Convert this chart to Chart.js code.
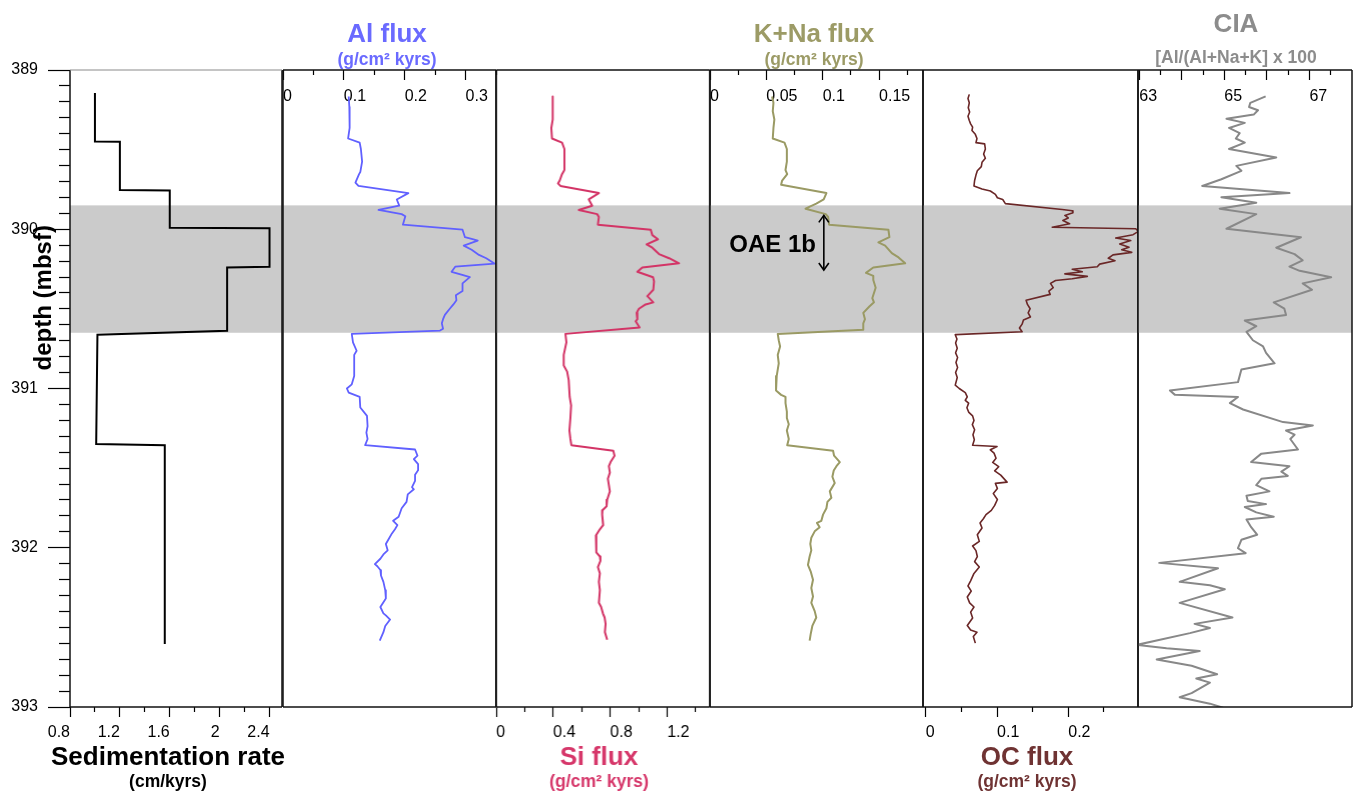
<!DOCTYPE html>
<html>
<head>
<meta charset="utf-8">
<script src="https://cdn.jsdelivr.net/npm/chart.js@4.4.1/dist/chart.umd.min.js"></script>
<style>
  html, body { margin: 0; padding: 0; background: #ffffff; }
  #wrap { position: relative; width: 1359px; height: 792px; overflow: hidden; background: #ffffff; }
  #wrap canvas { position: absolute; top: 0; }
</style>
</head>
<body>
<div id="wrap"></div>
<script>
// ---------- depth axis ----------
const depthLabels = [389, 390, 391, 392, 393];
const depthMinorStep = 0.1;
const oaeBand = [389.85, 390.65];

// ---------- sedimentation rate (cm/kyrs) ----------
const sedDepth = [389.145, 389.449, 389.451, 389.754, 389.756, 389.991, 389.993, 390.235, 390.240, 390.638, 390.662, 391.348, 391.356, 392.604];
const sedRate  = [1.00, 1.00, 1.20, 1.20, 1.60, 1.60, 2.40, 2.40, 2.06, 2.06, 1.02, 1.01, 1.56, 1.56];
const sedTicksLong = [0.8, 1.2, 1.6, 2, 2.4];
const sedTicksShort = [1.0, 1.4, 1.8, 2.2];
const sedTickLabels = [0.8, 1.2, 1.6, 2, 2.4];

// ---------- Al flux (g/cm2 kyrs) ----------
const alDepth = [389.166,389.232,389.298,389.364,389.430,389.456,389.496,389.575,389.641,389.654,389.707,389.728,389.773,389.813,389.852,389.879,389.905,389.918,389.971,390.003,390.050,390.063,390.071,390.103,390.129,390.161,390.182,390.216,390.235,390.267,390.288,390.301,390.340,390.388,390.414,390.446,390.472,390.499,390.538,390.565,390.591,390.625,390.636,390.657,390.710,390.763,390.789,390.921,390.974,391.000,391.026,391.053,391.119,391.172,391.237,391.277,391.317,391.356,391.383,391.422,391.443,391.475,391.514,391.541,391.580,391.620,391.633,391.665,391.712,391.752,391.805,391.831,391.858,391.884,391.910,391.950,391.976,392.016,392.042,392.069,392.103,392.116,392.140,392.174,392.214,392.266,392.319,392.372,392.412,392.425,392.451,392.491,392.530,392.583];
const alFlux = [0.108,0.109,0.109,0.110,0.107,0.126,0.128,0.130,0.127,0.125,0.119,0.124,0.206,0.187,0.191,0.157,0.195,0.201,0.197,0.295,0.299,0.313,0.320,0.297,0.310,0.322,0.334,0.348,0.283,0.277,0.296,0.307,0.295,0.295,0.284,0.285,0.280,0.274,0.266,0.263,0.261,0.263,0.258,0.113,0.115,0.121,0.117,0.117,0.113,0.105,0.108,0.126,0.127,0.138,0.139,0.137,0.139,0.135,0.217,0.221,0.215,0.222,0.222,0.217,0.217,0.212,0.215,0.205,0.203,0.195,0.190,0.181,0.188,0.184,0.179,0.173,0.169,0.172,0.165,0.160,0.151,0.155,0.160,0.161,0.165,0.168,0.169,0.160,0.165,0.169,0.176,0.168,0.165,0.159];
const alTicksLong = [0, 0.1, 0.2, 0.3];
const alTicksShort = [0.05, 0.15, 0.25, 0.35];
const alTickLabels = [0, 0.1, 0.2, 0.3];

// ---------- Si flux (g/cm2 kyrs) ----------
const siDepth = [389.166,389.311,389.364,389.430,389.456,389.496,389.628,389.654,389.694,389.712,389.728,389.773,389.813,389.852,389.879,389.905,389.923,389.971,390.003,390.037,390.063,390.095,390.116,390.156,390.182,390.214,390.240,390.267,390.301,390.327,390.380,390.420,390.459,390.472,390.499,390.525,390.565,390.578,390.617,390.657,390.710,390.789,390.855,390.894,390.947,391.053,391.106,391.185,391.264,391.317,391.356,391.391,391.422,391.462,391.488,391.528,391.567,391.607,391.646,391.699,391.739,391.765,391.792,391.858,391.884,391.923,391.976,392.029,392.055,392.082,392.121,392.161,392.214,392.266,392.346,392.372,392.412,392.438,392.478,392.530,392.578];
const siFlux = [0.397,0.397,0.387,0.392,0.462,0.479,0.479,0.462,0.446,0.434,0.451,0.721,0.650,0.674,0.580,0.709,0.721,0.714,1.085,1.096,1.136,1.056,1.096,1.143,1.214,1.284,1.026,0.991,1.101,1.108,1.103,1.061,1.103,1.049,1.002,0.986,0.991,0.979,1.007,0.486,0.493,0.474,0.474,0.498,0.509,0.516,0.526,0.521,0.514,0.521,0.528,0.822,0.831,0.803,0.791,0.798,0.784,0.791,0.798,0.779,0.775,0.746,0.744,0.751,0.728,0.700,0.704,0.702,0.728,0.732,0.714,0.728,0.721,0.728,0.721,0.737,0.749,0.761,0.768,0.763,0.779];
const siTicksLong = [0, 0.4, 0.8, 1.2];
const siTicksShort = [0.2, 0.6, 1.0, 1.4];
const siTickLabels = [0, 0.4, 0.8, 1.2];

// ---------- K+Na flux (g/cm2 kyrs) ----------
const knaDepth = [389.166,389.206,389.259,389.311,389.364,389.430,389.456,389.496,389.575,389.628,389.654,389.694,389.720,389.773,389.813,389.839,389.871,389.905,389.923,389.971,390.003,390.050,390.082,390.103,390.150,390.177,390.214,390.240,390.274,390.293,390.319,390.367,390.433,390.459,390.485,390.525,390.565,390.591,390.631,390.657,390.697,390.736,390.789,390.842,390.921,391.013,391.040,391.053,391.092,391.145,391.185,391.224,391.264,391.317,391.356,391.391,391.422,391.462,391.488,391.515,391.554,391.594,391.646,391.686,391.712,391.752,391.792,391.831,391.844,391.871,391.897,391.937,391.976,392.016,392.055,392.108,392.148,392.201,392.253,392.306,392.346,392.398,392.438,392.491,392.544,392.583];
const knaFlux = [0.0551,0.0563,0.0557,0.0571,0.0563,0.0557,0.0661,0.0682,0.0682,0.0670,0.0685,0.0640,0.0631,0.1033,0.1009,0.0943,0.0848,0.1027,0.1048,0.1057,0.1583,0.1592,0.1494,0.1554,0.1613,0.1673,0.1732,0.1449,0.1384,0.1449,0.1449,0.1470,0.1440,0.1455,0.1414,0.1360,0.1375,0.1360,0.1360,0.0601,0.0610,0.0622,0.0601,0.0610,0.0592,0.0586,0.0631,0.0670,0.0670,0.0682,0.0682,0.0699,0.0682,0.0699,0.0685,0.1092,0.1101,0.1152,0.1122,0.1098,0.1086,0.1107,0.1063,0.1077,0.1042,0.1033,0.1003,0.0988,0.0949,0.0973,0.0929,0.0899,0.0890,0.0899,0.0884,0.0869,0.0893,0.0914,0.0899,0.0914,0.0899,0.0929,0.0943,0.0908,0.0893,0.0884];
const knaTicksLong = [0, 0.05, 0.1, 0.15];
const knaTicksShort = [0.025, 0.075, 0.125, 0.175];
const knaTickLabels = [0, 0.05, 0.1, 0.15];
const oaeArrowDepth = [389.913, 390.256];
const oaeArrowFlux = 0.101;
const oaeLabelFlux = 0.094;
const oaeLabelDepth = 390.10;

// ---------- OC flux (g/cm2 kyrs) ----------
const ocDepth = [389.153,389.179,389.206,389.237,389.264,389.290,389.317,389.338,389.359,389.380,389.404,389.430,389.456,389.464,389.496,389.528,389.554,389.580,389.607,389.633,389.660,389.694,389.728,389.747,389.760,389.781,389.802,389.813,389.839,389.876,389.884,389.897,389.913,389.929,389.945,389.966,389.987,389.997,390.013,390.034,390.055,390.071,390.092,390.113,390.129,390.145,390.161,390.182,390.198,390.219,390.235,390.251,390.267,390.280,390.296,390.311,390.322,390.340,390.367,390.388,390.409,390.446,390.472,390.499,390.525,390.551,390.570,390.596,390.620,390.644,390.662,390.689,390.715,390.747,390.776,390.805,390.836,390.868,390.900,390.931,390.979,391.000,391.026,391.053,391.074,391.092,391.121,391.148,391.172,391.201,391.227,391.259,391.290,391.322,391.356,391.364,391.385,391.406,391.438,391.464,391.491,391.517,391.544,391.588,391.596,391.628,391.660,391.697,391.734,391.765,391.792,391.818,391.844,391.876,391.918,391.960,391.989,392.018,392.055,392.087,392.121,392.161,392.208,392.240,392.272,392.309,392.346,392.372,392.404,392.441,392.488,392.517,392.530,392.557,392.599];
const ocFlux = [0.0610,0.0592,0.0610,0.0596,0.0615,0.0592,0.0610,0.0629,0.0657,0.0648,0.0695,0.0718,0.0704,0.0826,0.0836,0.0812,0.0836,0.0789,0.0779,0.0723,0.0704,0.0685,0.0676,0.0789,0.0906,0.0977,0.1005,0.1080,0.1117,0.1915,0.2056,0.2066,0.1953,0.2000,0.1925,0.2019,0.1775,0.2948,0.2986,0.2911,0.2667,0.2878,0.2723,0.2854,0.2751,0.2892,0.2629,0.2563,0.2657,0.2441,0.2408,0.2056,0.2197,0.1953,0.2268,0.2056,0.1822,0.1751,0.1789,0.1728,0.1746,0.1408,0.1427,0.1465,0.1437,0.1469,0.1371,0.1352,0.1315,0.1352,0.0413,0.0437,0.0418,0.0441,0.0418,0.0446,0.0423,0.0446,0.0418,0.0441,0.0413,0.0469,0.0554,0.0582,0.0554,0.0601,0.0577,0.0601,0.0657,0.0676,0.0653,0.0685,0.0662,0.0681,0.0657,0.1000,0.0906,0.0958,0.0986,0.0939,0.1023,0.0967,0.1052,0.1141,0.0977,0.1005,0.0948,0.1005,0.0967,0.0920,0.0845,0.0808,0.0761,0.0789,0.0723,0.0751,0.0657,0.0704,0.0723,0.0685,0.0751,0.0676,0.0629,0.0592,0.0638,0.0582,0.0615,0.0676,0.0629,0.0657,0.0582,0.0629,0.0718,0.0667,0.0695];
const ocTicksLong = [0, 0.1, 0.2];
const ocTicksShort = [0.05, 0.15, 0.25];
const ocTickLabels = [0, 0.1, 0.2];

// ---------- CIA ----------
const ciaDepth = [389.166,389.206,389.232,389.253,389.280,389.306,389.332,389.364,389.396,389.430,389.456,389.496,389.549,389.602,389.633,389.686,389.728,389.773,389.799,389.834,389.871,389.905,389.997,390.050,390.116,390.156,390.195,390.235,390.261,390.301,390.340,390.380,390.459,390.499,390.538,390.573,390.609,390.644,390.697,390.736,390.776,390.842,390.881,390.960,391.013,391.040,391.053,391.092,391.132,391.211,391.232,391.264,391.290,391.317,391.383,391.409,391.462,391.488,391.522,391.549,391.567,391.607,391.646,391.673,391.707,391.726,391.744,391.778,391.805,391.823,391.871,391.918,391.950,392.003,392.034,392.095,392.129,392.214,392.235,392.261,392.346,392.438,392.478,392.504,392.536,392.610,392.631,392.649,392.702,392.741,392.794,392.821,392.847,392.913,392.939,392.979,393.005];
const ciaValue = [65.97,65.61,65.58,65.79,65.69,65.05,65.48,65.11,65.36,65.27,65.48,65.11,66.22,65.28,65.40,64.93,64.48,66.53,64.93,65.75,64.89,65.75,65.05,66.80,66.22,66.65,66.84,66.53,66.77,67.51,66.84,67.06,66.16,66.41,66.45,65.48,65.75,65.52,65.67,65.91,65.98,66.18,65.40,65.32,63.72,63.84,65.32,65.13,65.44,66.38,67.08,66.45,66.65,66.55,66.73,65.87,65.63,66.53,66.34,66.49,65.87,65.75,66.06,65.52,65.55,65.98,65.48,65.75,66.16,65.52,65.63,65.77,65.40,65.32,65.50,63.47,64.85,63.95,64.66,65.01,63.95,65.19,64.30,64.66,64.19,62.94,63.64,64.42,63.41,64.23,64.83,64.34,64.66,64.23,63.95,64.66,64.97];
const ciaTicksLong = [63, 64, 65, 66, 67];
const ciaTicksShort = [63.5, 64.5, 65.5, 66.5, 67.5];
const ciaTickLabels = [63, 65, 67];

// ---------- drawing helpers ----------
const FONT = "'Liberation Sans', Arial, Helvetica, sans-serif";
const PLOT_TOP = 70, PLOT_BOTTOM = 707, PAGE_H = 792;
const BOTTOM_AXIS_H = 40;

function isIn(v, list) {
  return v !== undefined && v !== null && list.some(m => Math.abs(m - v) < 1e-9);
}
function labelFor(v, list) {
  const m = list.find(l => Math.abs(l - v) < 1e-9);
  return m === undefined ? '' : String(m);
}
function toPoints(depths, values) {
  return depths.map((d, i) => ({ x: values[i], y: d }));
}
function depthTickValues() {
  const out = depthLabels.slice();
  for (let i = 0; i < depthLabels.length - 1; i++) {
    for (let k = 1; k < 10; k++) out.push(Math.round((depthLabels[i] + k * depthMinorStep) * 1000) / 1000);
  }
  return out.sort((a, b) => a - b);
}

// x axis with long / short ticks; 'top' axes carry their ticks and labels inside the frame
function xAxis(ax) {
  const values = ax.long.concat(ax.short).sort((a, b) => a - b);
  const top = ax.side === 'top';
  const L = 10, S = 5;
  return {
    type: 'linear', position: ax.side, min: ax.min, max: ax.max,
    afterBuildTicks: s => { s.ticks = values.map(v => ({ value: v })); },
    afterFit: s => { s.height = top ? 0 : BOTTOM_AXIS_H; s.paddingLeft = 0; s.paddingRight = 0; },
    border: { display: false },
    grid: {
      display: true, drawOnChartArea: false, drawTicks: true,
      tickLength: top ? -L : L, tickColor: '#000', tickWidth: 1.2,
      tickBorderDash: c => isIn(c.tick && c.tick.value, ax.long) ? [] : (top ? [S, L - S] : [S, L]),
      tickBorderDashOffset: c => isIn(c.tick && c.tick.value, ax.long) ? 0 : (top ? S : 0)
    },
    ticks: {
      autoSkip: false, maxRotation: 0, minRotation: 0, mirror: top,
      padding: top ? 17 : 6.4, align: ax.align || 'start', color: '#000',
      font: { family: FONT, size: 16 },
      callback: v => labelFor(v, ax.labels)
    }
  };
}

function yAxis(visible, width) {
  const values = depthTickValues();
  return {
    type: 'linear', position: 'left', reverse: true, min: 389, max: 393, display: visible,
    afterBuildTicks: s => { s.ticks = values.map(v => ({ value: v })); },
    afterFit: s => { s.width = width; s.paddingTop = 0; s.paddingBottom = 0; },
    border: { display: false },
    grid: {
      display: true, drawOnChartArea: false, drawTicks: true, tickLength: 22,
      tickColor: '#000', tickWidth: 1.2,
      tickBorderDash: c => isIn(c.tick && c.tick.value, depthLabels) ? [] : [11, 11],
      tickBorderDashOffset: c => isIn(c.tick && c.tick.value, depthLabels) ? 0 : 11
    },
    ticks: {
      autoSkip: false, padding: 10, color: '#000', font: { family: FONT, size: 16 },
      callback: v => labelFor(v, depthLabels)
    }
  };
}

// empty box on the right, used only to balance the heading above a panel
function spacerAxis(width) {
  return {
    type: 'linear', position: 'right', display: false,
    afterFit: s => { s.width = width; s.paddingTop = 0; s.paddingBottom = 0; }
  };
}

// grey OAE 1b interval behind the curves
const bandPlugin = {
  id: 'oaeBand',
  beforeDatasetsDraw(chart) {
    const { ctx, chartArea: a, scales: { y } } = chart;
    const t = y.getPixelForValue(oaeBand[0]);
    const b = y.getPixelForValue(oaeBand[1]);
    ctx.save();
    ctx.fillStyle = '#cbcbcb';
    ctx.fillRect(a.left, t, a.right - a.left, b - t);
    ctx.restore();
  }
};

// panel outline
const framePlugin = {
  id: 'panelFrame',
  afterDatasetsDraw(chart, args, opts) {
    const { ctx, chartArea: a } = chart;
    const seg = (x1, y1, x2, y2, color, w) => {
      ctx.beginPath(); ctx.strokeStyle = color; ctx.lineWidth = w;
      ctx.moveTo(x1, y1); ctx.lineTo(x2, y2); ctx.stroke();
    };
    ctx.save();
    seg(a.left, a.top, a.left, a.bottom, '#111', 1.5);
    seg(a.right, a.top, a.right, a.bottom, '#111', 1.5);
    seg(a.left, a.bottom, a.right, a.bottom, '#111', 1.5);
    seg(a.left, a.top, a.right, a.top, opts.topColor || '#111', opts.topWidth || 1.5);
    ctx.restore();
  }
};

// OAE 1b double arrow and its label
const oaeMarkerPlugin = {
  id: 'oaeMarker',
  afterDatasetsDraw(chart) {
    const { ctx, scales: { x, y } } = chart;
    const ax = x.getPixelForValue(oaeArrowFlux);
    const y1 = y.getPixelForValue(oaeArrowDepth[0]);
    const y2 = y.getPixelForValue(oaeArrowDepth[1]);
    ctx.save();
    ctx.strokeStyle = '#000'; ctx.lineWidth = 1.6;
    ctx.beginPath(); ctx.moveTo(ax, y1); ctx.lineTo(ax, y2); ctx.stroke();
    ctx.beginPath(); ctx.moveTo(ax - 5, y1 + 7); ctx.lineTo(ax, y1); ctx.lineTo(ax + 5, y1 + 7); ctx.stroke();
    ctx.beginPath(); ctx.moveTo(ax - 5, y2 - 7); ctx.lineTo(ax, y2); ctx.lineTo(ax + 5, y2 - 7); ctx.stroke();
    ctx.fillStyle = '#000';
    ctx.font = 'bold 24px ' + FONT;
    ctx.textAlign = 'right'; ctx.textBaseline = 'middle';
    ctx.fillText('OAE 1b', x.getPixelForValue(oaeLabelFlux), y.getPixelForValue(oaeLabelDepth));
    ctx.restore();
  }
};

// rotated depth axis caption
const depthCaptionPlugin = {
  id: 'depthCaption',
  afterDraw(chart) {
    const { ctx, scales: { y } } = chart;
    ctx.save();
    ctx.translate(44, y.getPixelForValue(390.43));
    ctx.rotate(-Math.PI / 2);
    ctx.fillStyle = '#000';
    ctx.font = 'bold 24px ' + FONT;
    ctx.textAlign = 'center'; ctx.textBaseline = 'middle';
    ctx.fillText('depth (mbsf)', 0, 0);
    ctx.restore();
  }
};

function headings(p) {
  const T = 26, S = 17.5;
  if (p.side === 'top') {
    const tTop = p.titleY - T / 2;
    const tBottom = tTop + T;
    const sTop = p.subY - S / 2 - tBottom;
    const sBottom = PLOT_TOP - p.subY - S / 2;
    return {
      title: { display: true, position: 'top', text: p.title, color: p.color,
        font: { family: FONT, size: T, weight: 'bold', lineHeight: 1 }, padding: { top: tTop, bottom: 0 } },
      subtitle: { display: true, position: 'top', text: p.subtitle, color: p.color,
        font: { family: FONT, size: S, weight: 'bold', lineHeight: 1 }, padding: { top: sTop, bottom: sBottom } },
      padTop: 0, padBottom: PAGE_H - PLOT_BOTTOM
    };
  }
  const TL = T * 0.8;
  const axisBottom = PLOT_BOTTOM + BOTTOM_AXIS_H;
  const tTop = p.titleY - TL / 2 - axisBottom;
  const tBottom = axisBottom + tTop + TL;
  const sTop = p.subY - S / 2 - tBottom;
  const padBottom = PAGE_H - (p.subY + S / 2);
  return {
    title: { display: true, position: 'bottom', weight: 1000, text: p.title, color: p.color,
      font: { family: FONT, size: T, weight: 'bold', lineHeight: 0.8 }, padding: { top: tTop, bottom: 0 } },
    subtitle: { display: true, position: 'bottom', weight: 1500, text: p.subtitle, color: p.color,
      font: { family: FONT, size: S, weight: 'bold', lineHeight: 1 }, padding: { top: sTop, bottom: 0 } },
    padTop: PLOT_TOP, padBottom
  };
}

function panel(p) {
  const wrap = document.getElementById('wrap');
  const canvas = document.createElement('canvas');
  const left = p.canvasLeft !== undefined ? p.canvasLeft : p.x0 - 70;
  const width = p.x1 + 70 - left;
  canvas.width = width; canvas.height = PAGE_H;
  canvas.style.left = left + 'px';
  canvas.style.width = width + 'px'; canvas.style.height = PAGE_H + 'px';
  wrap.appendChild(canvas);
  const yW = p.depthWidth !== undefined ? p.depthWidth : Math.max(0, -2 * p.shift);
  const rW = p.rightSpacer || 0;
  const h = headings(p);
  const scales = {
    x: xAxis({ side: p.side, min: p.min, max: p.max, long: p.long, short: p.short, labels: p.labels, align: p.align }),
    y: yAxis(!!p.showDepth, yW)
  };
  if (rW) scales.yr = spacerAxis(rW);
  return new Chart(canvas, {
    type: 'scatter',
    data: {
      datasets: [{
        data: toPoints(p.depth, p.values), showLine: true,
        borderColor: p.lineColor, borderWidth: p.lineWidth, pointRadius: 0,
        tension: 0, fill: false, borderJoinStyle: p.join || 'round'
      }]
    },
    options: {
      responsive: false, animation: false, devicePixelRatio: 1, events: [],
      layout: { padding: { left: p.x0 - left - yW, right: 70 - rW, top: h.padTop, bottom: h.padBottom } },
      scales,
      plugins: {
        legend: { display: false }, tooltip: { enabled: false },
        title: h.title, subtitle: h.subtitle,
        panelFrame: { topColor: p.topColor, topWidth: p.topWidth }
      }
    },
    plugins: [bandPlugin, framePlugin].concat(p.extra || [])
  });
}

panel({ x0: 70, x1: 282, canvasLeft: 0, depthWidth: 70, rightSpacer: 54, showDepth: true, side: 'bottom', align: 'end',
  min: 0.8, max: 2.5, long: sedTicksLong, short: sedTicksShort, labels: sedTickLabels,
  depth: sedDepth, values: sedRate, lineColor: '#000000', lineWidth: 2, join: 'miter',
  title: 'Sedimentation rate', subtitle: '(cm/kyrs)', color: '#000000', titleY: 758, subY: 782,
  topColor: '#8a8a8a', topWidth: 1, extra: [depthCaptionPlugin] });

panel({ x0: 283, x1: 496, shift: -2.5, side: 'top',
  min: 0, max: 0.35, long: alTicksLong, short: alTicksShort, labels: alTickLabels,
  depth: alDepth, values: alFlux, lineColor: '#6060ff', lineWidth: 1.8,
  title: 'Al flux', subtitle: '(g/cm² kyrs)', color: '#6a6aff', titleY: 35, subY: 60 });

panel({ x0: 496, x1: 709.5, shift: -4, side: 'bottom',
  min: 0, max: 1.5, long: siTicksLong, short: siTicksShort, labels: siTickLabels,
  depth: siDepth, values: siFlux, lineColor: '#d33466', lineWidth: 2,
  title: 'Si flux', subtitle: '(g/cm² kyrs)', color: '#d6376a', titleY: 758, subY: 782 });

panel({ x0: 710, x1: 923, shift: -2.5, side: 'top',
  min: 0, max: 0.189, long: knaTicksLong, short: knaTicksShort, labels: knaTickLabels,
  depth: knaDepth, values: knaFlux, lineColor: '#9a9a64', lineWidth: 2,
  title: 'K+Na flux', subtitle: '(g/cm² kyrs)', color: '#9c9b66', titleY: 35, subY: 60,
  extra: [oaeMarkerPlugin] });

panel({ x0: 923, x1: 1138, shift: -3.5, side: 'bottom',
  min: -0.004, max: 0.298, long: ocTicksLong, short: ocTicksShort, labels: ocTickLabels,
  depth: ocDepth, values: ocFlux, lineColor: '#6a2727', lineWidth: 1.6,
  title: 'OC flux', subtitle: '(g/cm² kyrs)', color: '#6f3333', titleY: 758, subY: 782 });

panel({ x0: 1138, x1: 1352, shift: -9, side: 'top',
  min: 62.97, max: 68, long: ciaTicksLong, short: ciaTicksShort, labels: ciaTickLabels,
  depth: ciaDepth, values: ciaValue, lineColor: '#888888', lineWidth: 2,
  title: 'CIA', subtitle: '[Al/(Al+Na+K] x 100', color: '#8c8c8c', titleY: 25, subY: 58 });
</script>
</body>
</html>
